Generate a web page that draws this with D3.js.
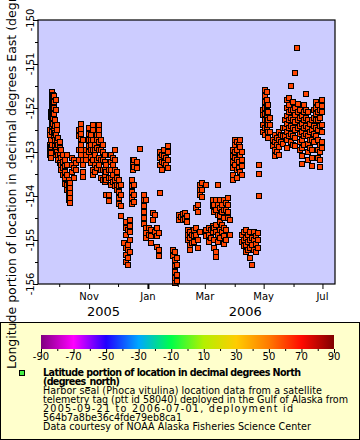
<!DOCTYPE html>
<html><head><meta charset="utf-8">
<script src="https://cdn.jsdelivr.net/npm/d3@7"></script>
<style>body{margin:0;background:#fff}svg{display:block;font-family:"DejaVu Sans",sans-serif}</style>
</head><body><svg id="c" width="360" height="440"></svg>
<script>
// ---- data: seal location fixes, grouped by date ----
const fixDates = ["2005-09-21","2005-09-22","2005-09-23","2005-09-24","2005-09-25","2005-09-26","2005-09-27","2005-09-28","2005-09-29","2005-09-30",
"2005-10-02","2005-10-03","2005-10-05","2005-10-07","2005-10-09","2005-10-11","2005-10-12","2005-10-14","2005-10-16","2005-10-18",
"2005-10-22","2005-10-24","2005-10-26","2005-10-29","2005-11-01","2005-11-03","2005-11-05","2005-11-07","2005-11-09","2005-11-11",
"2005-11-13","2005-11-15","2005-11-17","2005-11-19","2005-11-22","2005-11-24","2005-11-26","2005-11-28","2005-11-30","2005-12-02",
"2005-12-04","2005-12-07","2005-12-09","2005-12-11","2005-12-13","2005-12-15","2005-12-16","2005-12-18","2005-12-21","2005-12-24",
"2005-12-28","2005-12-30","2006-01-02","2006-01-04","2006-01-06","2006-01-08","2006-01-10","2006-01-12","2006-01-13","2006-01-14",
"2006-01-16","2006-01-18","2006-01-20","2006-01-22","2006-01-27","2006-01-29","2006-01-31","2006-02-02","2006-02-04","2006-02-06",
"2006-02-08","2006-02-10","2006-02-12","2006-02-14","2006-02-16","2006-02-18","2006-02-20","2006-02-22","2006-02-24","2006-02-26",
"2006-03-02","2006-03-05","2006-03-07","2006-03-09","2006-03-11","2006-03-13","2006-03-15","2006-03-17","2006-03-19","2006-03-21",
"2006-03-23","2006-03-25","2006-03-27","2006-03-30","2006-04-01","2006-04-03","2006-04-05","2006-04-07","2006-04-09","2006-04-11",
"2006-04-13","2006-04-15","2006-04-17","2006-04-19","2006-04-21","2006-04-23","2006-04-25","2006-04-26","2006-04-30","2006-05-02",
"2006-05-04","2006-05-06","2006-05-08","2006-05-11","2006-05-13","2006-05-15","2006-05-17","2006-05-19","2006-05-21","2006-05-23",
"2006-05-25","2006-05-27","2006-05-29","2006-05-31","2006-06-02","2006-06-03","2006-06-05","2006-06-06","2006-06-08","2006-06-10",
"2006-06-12","2006-06-14","2006-06-16","2006-06-18","2006-06-20","2006-06-22","2006-06-24","2006-06-26","2006-06-28","2006-06-30",
"2006-07-01"];
const fixLons = [
[-152.50,-152.61,-152.84,-152.95,-153.07],
[-152.09,-152.20,-152.73,-152.89,-153.02,-153.14],
[-151.64,-151.77,-151.91,-152.05,-152.18],
[-152.27,-152.41,-152.55,-152.84],
[-151.70,-151.82,-151.95,-152.09,-152.23,-152.36],
[-151.73,-151.86,-152.00,-152.14,-152.50,-152.64],
[-152.27,-152.41,-152.57,-152.73,-152.86],
[-151.82,-152.05,-152.61,-152.95,-153.07],
[-152.39,-152.50,-152.73,-152.84,-153.00],
[-152.68,-152.84,-153.07,-153.18],
[-152.77,-152.91,-153.07,-153.25],
[-152.95,-153.14,-153.30,-153.41],
[-153.07,-153.23,-153.36,-153.52],
[-153.18,-153.32,-153.45,-153.59,-153.73],
[-153.07,-153.30,-153.52,-153.75,-153.86],
[-153.64,-153.75,-153.86,-153.98,-154.09],
[-153.70,-153.82,-153.93,-154.05,-154.16],
[-153.14,-153.30,-153.45],
[-153.18,-153.36,-153.59],
[-153.25,-153.41],
[-152.50,-152.64,-152.95,-153.18],
[-152.36,-152.48,-152.59,-152.70,-152.84,-152.95,-153.07],
[-152.73,-153.18,-153.30,-153.45,-153.57],
[-152.95,-153.07,-153.18],
[-152.45,-152.59,-152.73,-152.86,-153.00],
[-152.61,-152.73,-152.84,-152.95,-153.11,-153.25],
[-152.39,-152.50,-152.73,-152.95,-153.18,-153.41,-153.52],
[-152.84,-152.95,-153.07,-153.30,-153.45],
[-152.61,-152.73,-152.91,-153.18,-153.36],
[-152.39,-152.50,-152.61,-152.77,-152.95,-153.14,-153.30],
[-152.73,-152.95,-153.18,-153.41,-153.59],
[-152.84,-153.00,-153.18,-153.41,-153.64],
[-153.07,-153.23,-153.41,-153.55,-153.68],
[-153.30,-153.45,-153.64,-153.98],
[-153.41,-153.59,-153.98,-154.11],
[-153.07,-153.23,-153.41,-153.59,-153.75],
[-153.14,-153.30,-153.52,-153.68],
[-152.95,-153.18,-153.41,-153.64,-153.77],
[-153.45,-153.59,-153.75,-153.86],
[-153.64,-153.77,-153.91,-154.05,-154.18],
[-153.75,-153.98,-154.23,-154.45],
[-155.07],
[-154.59,-154.73,-154.89,-155.18,-155.34,-155.50],
[-154.77,-155.11,-155.23,-155.41,-155.57],
[-154.55,-154.68,-154.82,-155.00,-155.27],
[-153.64,-153.77,-153.91,-154.05,-154.18],
[-153.18,-153.30,-153.41],
[-153.18,-153.34,-153.75,-153.98,-154.14],
[-153.23,-153.36],
[-152.93],
[-153.98,-154.09,-154.23,-154.36,-154.50,-154.64],
[-154.09,-154.73,-154.84,-154.95],
[-154.73,-154.89],
[-154.77,-154.91,-155.07],
[-154.39,-154.55],
[-154.43,-154.82],
[-154.73,-154.91,-155.16],
[-154.84,-155.23,-155.36],
[-153.93],
[-153.00,-153.14,-153.30],
[-153.07,-153.23,-153.41],
[-152.95,-153.09,-153.25],
[-153.14,-153.30],
[-152.86,-153.00,-153.18,-153.36],
[-155.23,-155.36],
[-155.27,-155.45,-155.59,-155.73,-155.86,-155.98],
[-155.41,-155.57,-155.80,-155.93],
[-154.43,-154.55],
[-154.48],
[-154.41,-154.55],
[-154.39,-154.52],
[-154.45,-154.59],
[-154.77,-154.89,-155.00],
[-154.82,-154.95,-155.11,-155.23],
[-154.89,-155.07],
[-154.77,-154.91,-155.05],
[-154.27,-154.73,-154.89],
[-154.20,-154.36,-155.00,-155.18],
[-153.75,-153.86,-153.98,-154.82],
[-153.70,-153.86,-154.02],
[-153.75,-154.77,-154.91],
[-154.73,-154.89,-155.05],
[-154.77,-154.95],
[-154.09,-154.23,-154.68,-154.82],
[-154.20,-154.36,-154.73,-155.00,-155.18],
[-154.09,-154.32,-154.66,-154.82,-155.27,-155.39],
[-153.75,-154.20,-154.43,-154.89,-155.05],
[-154.09,-154.27,-154.45,-154.59,-154.77,-154.95],
[-154.20,-154.36,-154.66,-154.82],
[-154.09,-154.32,-154.50,-154.73,-154.91,-155.09],
[-154.16,-154.32,-154.77,-155.00],
[-154.05,-154.20,-154.36,-154.50],
[-154.55,-154.89],
[-152.95,-153.09,-153.23,-153.36,-153.52,-153.64],
[-152.73,-152.84,-153.00,-153.14,-153.30],
[-152.77,-152.95,-153.18,-153.41,-153.59],
[-152.84,-153.07,-153.23,-153.36],
[-152.73,-152.89,-153.07,-153.45],
[-153.00,-153.18,-153.32,-153.52,-154.89,-155.05],
[-154.82,-155.00,-155.14],
[-154.77,-154.95,-155.11,-155.27],
[-154.89,-155.05,-155.23],
[-154.82,-155.00,-155.18,-155.41],
[-154.95,-155.11,-155.57],
[-154.82,-155.00,-155.23],
[-154.91,-155.09,-155.27],
[-154.84,-155.00,-155.18],
[-153.30,-153.50,-154.00],
[-152.05,-152.16,-152.39,-152.55],
[-151.59,-151.73,-151.86,-152.00,-152.14,-152.27,-152.45,-152.61],
[-151.64,-151.82,-151.95,-152.09,-152.23,-152.36,-152.50],
[-151.93,-152.09,-152.27,-152.39,-152.55,-152.68],
[-152.23,-152.39,-152.55],
[-152.73,-152.86],
[-152.61,-152.77,-152.95,-153.09],
[-152.68,-152.84,-153.00],
[-152.55,-152.73,-152.89,-153.07],
[-152.61,-152.77],
[-152.45,-152.64,-152.82],
[-152.27,-152.45,-152.64],
[-151.82,-152.00,-152.18,-152.36,-152.55,-152.73,-152.91],
[-151.77,-151.93,-152.09,-152.27,-152.45,-152.64],
[-151.50,-152.05,-152.23,-152.41,-152.59,-152.77],
[-151.86,-152.05,-152.27,-152.45,-152.64,-152.84],
[-151.20],
[-152.00,-152.16,-152.32,-152.50,-152.68,-152.86],
[-150.64],
[-151.91,-152.09,-152.27,-152.45],
[-152.05,-152.23,-152.41,-152.59,-152.77,-152.95],
[-152.18,-152.36,-152.55,-152.73,-152.91,-153.09,-153.27],
[-151.93,-152.09,-152.27,-152.45,-152.64,-152.84],
[-151.68,-152.05,-152.23,-152.41,-152.59],
[-152.09,-152.27,-152.45,-152.64,-152.82,-153.00,-153.18],
[-152.36,-152.55,-152.73,-152.91],
[-152.27,-152.50,-152.73,-152.95,-153.14,-153.32],
[-152.05,-152.23,-152.41,-152.59,-152.77],
[-151.86,-152.00,-152.14,-152.27,-152.45,-152.64],
[-151.93,-152.09,-152.27,-152.50,-152.73,-152.95,-153.14],
[-152.05,-152.23,-152.41,-152.84,-153.00,-153.18,-153.34],
[-152.39,-152.55,-152.77,-152.91],
[-151.82,-151.95,-152.09]
];
const yTicks = [-156,-155,-154,-153,-152,-151,-150];
const monthLabels = ["Nov","Jan","Mar","May","Jul"];
const yearLabels = ["2005","2006"];
const cbTicks = [-90,-70,-50,-30,-10,10,30,50,70,90];
const cbStops = [[-90,"#800080"],[-70,"#ff00ff"],[-50,"#2000ff"],[-30,"#00a8ff"],[-10,"#00ff48"],[10,"#b4f000"],[30,"#ffcc00"],[50,"#ff7a00"],[70,"#ff0a00"],[90,"#800000"]];
const legendBold = ["Latitude portion of location in decimal degrees North","(degrees_north)"];
const legendLines = ["Harbor seal (Phoca vitulina) location data from a satellite","telemetry tag (ptt id 58040) deployed in the Gulf of Alaska from","2005-09-21 to 2006-07-01, deployment id","564b7a8be36c4fde79eb8ca1","Data courtesy of NOAA Alaska Fisheries Science Center"];
const yTitle = "Longitude portion of location in decimal degrees East (degrees_east)";

// ---- drawing ----
const svg = d3.select("#c");
const L=38,R=335,T=20,B=284;
const pd = d3.utcParse("%Y-%m-%d");
const x = d3.scaleUtc().domain([pd("2005-09-09"),pd("2006-07-14")]).range([L,R]);
const y = d3.scaleLinear().domain([-156,-150]).range([B,T]);

svg.append("rect").attr("width",360).attr("height",440).attr("fill","#fff");
svg.append("rect").attr("x",L).attr("y",T).attr("width",R-L).attr("height",B-T).attr("fill","#ccccff");

const pts=[];
fixDates.forEach((d,i)=>fixLons[i].forEach(v=>pts.push({d:pd(d),v})));
svg.append("g").selectAll("rect").data(pts).join("rect")
 .attr("x",p=>Math.round(x(p.d))-2.5).attr("y",p=>Math.round(y(p.v))-2.5)
 .attr("width",5).attr("height",5).attr("fill","#ff4400").attr("stroke","#000").attr("stroke-width",1);

svg.append("rect").attr("x",L).attr("y",T).attr("width",R-L).attr("height",B-T).attr("fill","none").attr("stroke","#000").attr("stroke-width",1.2);

// y axis
const ya = svg.append("g").attr("transform",`translate(${L},0)`)
 .call(d3.axisLeft(y).tickValues(d3.range(-156,-149.9,0.5)).tickSize(3).tickFormat(""));
ya.select(".domain").remove();
ya.selectAll(".tick line").attr("x2",(d)=>Number.isInteger(d)?-5:-3);
yTicks.forEach(t=>{
 svg.append("text").attr("transform",`translate(33.5,${y(t)}) rotate(-90)`).attr("text-anchor","middle")
  .attr("font-size",10).text(String(t));
});
// x axis
const months = d3.utcMonth.range(pd("2005-10-01"),pd("2006-07-02"));
const xa = svg.append("g").attr("transform",`translate(0,${B})`)
 .call(d3.axisBottom(x).tickValues(months).tickSize(3).tickFormat(""));
xa.select(".domain").remove();
xa.selectAll(".tick line").attr("y2",d=>d.getUTCMonth()%2===0?5:3).attr("stroke-width",d=>d.getUTCMonth()===0?2:1);
const majors = months.filter(d=>d.getUTCMonth()%2===0);
majors.forEach((d,i)=>svg.append("text").attr("x",x(d)).attr("y",300).attr("text-anchor","middle").attr("font-size",10).text(monthLabels[i]));
[pd("2005-11-16"),pd("2006-04-12")].forEach((d,i)=>svg.append("text").attr("x",x(d)).attr("y",315.5).attr("text-anchor","middle").attr("font-size",13).text(yearLabels[i]));

// legend box
svg.append("rect").attr("x",0.5).attr("y",322.5).attr("width",359).attr("height",117).attr("fill","#ffffcc").attr("stroke","#000");
// y title (drawn over legend as in reference)
svg.append("text").attr("transform",`translate(16,369) rotate(-90)`).attr("font-size",12.5).text(yTitle);

// colorbar
const cb = d3.scaleLinear().domain([-90,90]).range([41,334]);
const grad = svg.append("defs").append("linearGradient").attr("id","g");
cbStops.forEach(s=>grad.append("stop").attr("offset",(s[0]+90)/180).attr("stop-color",s[1]));
svg.append("rect").attr("x",41).attr("y",335).attr("width",293).attr("height",14).attr("fill","url(#g)");
const ca = svg.append("g").attr("transform","translate(0,349)")
 .call(d3.axisBottom(cb).tickValues(d3.range(-90,91,10)).tickSize(3).tickFormat(""));
ca.select(".domain").remove();
ca.selectAll(".tick line").attr("y2",d=>(d+90)%20===0?4:2);
cbTicks.forEach(t=>svg.append("text").attr("x",cb(t)).attr("y",360).attr("text-anchor","middle").attr("font-size",10).text(String(t)));

// legend entry
svg.append("rect").attr("x",19.5).attr("y",370.5).attr("width",5).attr("height",5).attr("fill","#44ee44").attr("stroke","#000");
const lt = svg.append("g").attr("font-size",9.6);
const boldW = [258,77], lineW = [279,305,250,139,268];
legendBold.forEach((s,i)=>lt.append("text").attr("x",43).attr("y",376+i*9).attr("font-weight","bold")
  .attr("textLength",boldW[i]).attr("lengthAdjust","spacing").text(s));
legendLines.forEach((s,i)=>lt.append("text").attr("x",43).attr("y",394+i*9)
  .attr("textLength",lineW[i]).attr("lengthAdjust","spacing").text(s));
</script></body></html>
